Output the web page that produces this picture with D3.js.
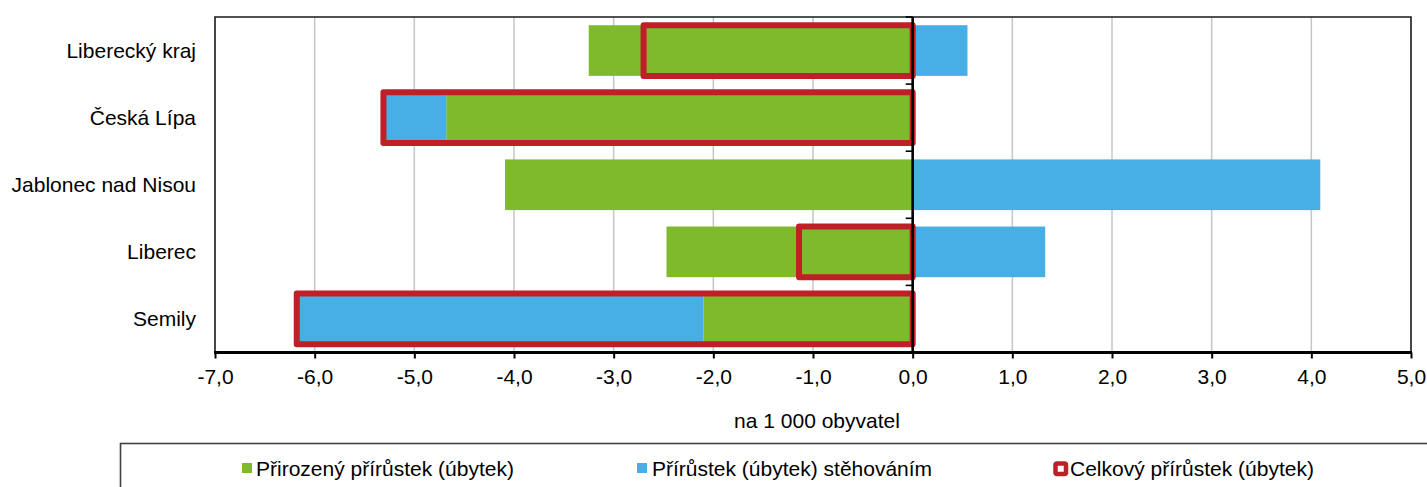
<!DOCTYPE html>
<html>
<head>
<meta charset="utf-8">
<script src="https://cdn.jsdelivr.net/npm/d3@7"></script>
<style>
  html, body { margin: 0; padding: 0; background: #fff; }
  svg { display: block; }
  text { font-family: "Liberation Sans", Arial, sans-serif; fill: #000; }
</style>
</head>
<body>
<svg id="chart" width="1427" height="487"></svg>
<script>
const categories = ["Liberecký kraj", "Česká Lípa", "Jablonec nad Nisou", "Liberec", "Semily"];
const natural   = [-3.25, -4.68, -4.09, -2.47, -2.10];
const migration = [ 0.55, -0.63,  4.09,  1.33, -4.08];
const total     = [-2.70, -5.31,  0.00, -1.14, -6.18];
const xTicks = [-7, -6, -5, -4, -3, -2, -1, 0, 1, 2, 3, 4, 5];
const seriesNames = ["Přirozený přírůstek (úbytek)", "Přírůstek (úbytek) stěhováním", "Celkový přírůstek (úbytek)"];
const axisTitle = "na 1 000 obyvatel";

const colors = { natural: "#7FBA2C", migration: "#48AEE6", total: "#C01F27" };

const svg = d3.select("#chart");
const pLeft = 215, pRight = 1411, pTop = 17, pBottom = 352.5;

const x = d3.scaleLinear().domain([-7, 5]).range([pLeft, pRight]);
const y = d3.scaleBand().domain(categories).range([pTop, pBottom]).paddingInner(0.245).paddingOuter(0.1225);

// gridlines
svg.append("g").selectAll("line").data(xTicks.filter(t => t !== -7 && t !== 0 && t !== 5)).join("line")
  .attr("x1", d => x(d)).attr("x2", d => x(d))
  .attr("y1", pTop).attr("y2", pBottom)
  .attr("stroke", "#C6C6C6").attr("stroke-width", 1.5);

// stacked bars
const rows = categories.map((c, i) => ({ cat: c, natural: natural[i], migration: migration[i] }));
const stack = d3.stack().keys(["natural", "migration"]).offset(d3.stackOffsetDiverging);
const stacked = stack(rows);

svg.append("g").selectAll("g").data(stacked).join("g")
  .attr("fill", s => colors[s.key])
  .selectAll("rect").data(s => s).join("rect")
  .attr("x", d => x(Math.min(d[0], d[1])))
  .attr("width", d => Math.abs(x(d[1]) - x(d[0])))
  .attr("y", d => y(d.data.cat))
  .attr("height", y.bandwidth());

// total outline boxes
svg.append("g").selectAll("rect").data(categories.map((c, i) => ({ cat: c, v: total[i] })).filter(d => d.v !== 0)).join("rect")
  .attr("x", d => x(Math.min(d.v, 0)))
  .attr("width", d => Math.abs(x(d.v) - x(0)))
  .attr("y", d => y(d.cat))
  .attr("height", y.bandwidth())
  .attr("fill", "none")
  .attr("stroke", colors.total)
  .attr("stroke-width", 6)
  .attr("stroke-linejoin", "round");

// frame: top, left, right
svg.append("path")
  .attr("d", `M${pLeft},${pBottom} V${pTop} H${pRight} V${pBottom}`)
  .attr("fill", "none").attr("stroke", "#1a1a1a").attr("stroke-width", 1.6);

// zero line with category separator ticks
svg.append("line").attr("x1", x(0)).attr("x2", x(0)).attr("y1", pTop).attr("y2", pBottom)
  .attr("stroke", "#000").attr("stroke-width", 2.6);
const seps = categories.map(c => y(c) - y.step() * y.paddingInner() / 2).concat([pBottom]);
svg.append("g").selectAll("line").data(seps).join("line")
  .attr("x1", x(0) - 7).attr("x2", x(0))
  .attr("y1", d => d).attr("y2", d => d)
  .attr("stroke", "#000").attr("stroke-width", 1.6);

// bottom axis
const xAxis = d3.axisBottom(x).tickValues(xTicks).tickSize(6).tickPadding(8)
  .tickFormat(d => d3.format(".1f")(d).replace(".", ",").replace("−", "-"));
const ax = svg.append("g").attr("transform", `translate(0,${pBottom})`).call(xAxis);
ax.select(".domain").attr("stroke", "#000").attr("stroke-width", 3).attr("d", `M${pLeft - 1},0H${pRight + 1}`);
ax.selectAll(".tick line").attr("stroke", "#000").attr("stroke-width", 2);
ax.selectAll(".tick text").attr("font-size", 21).attr("font-family", "Liberation Sans, Arial, sans-serif")
  .attr("fill", "#000").attr("y", 0).attr("dy", 31.5);

// category labels
svg.append("g").selectAll("text").data(categories).join("text")
  .attr("x", 196)
  .attr("y", d => y(d) + y.bandwidth() / 2 + 7.5)
  .attr("text-anchor", "end").attr("font-size", 21)
  .text(d => d);

// axis title
svg.append("text").attr("x", (pLeft + pRight) / 2 + 4).attr("y", 428)
  .attr("text-anchor", "middle").attr("font-size", 21).text(axisTitle);

// legend box
svg.append("rect").attr("x", 120.5).attr("y", 443.5).attr("width", 1400).attr("height", 100)
  .attr("fill", "none").attr("stroke", "#404040").attr("stroke-width", 1.6);

const legendItems = [
  { name: seriesNames[0], color: colors.natural, mx: 242, tx: 256, type: "fill" },
  { name: seriesNames[1], color: colors.migration, mx: 637, tx: 652, type: "fill" },
  { name: seriesNames[2], color: colors.total, mx: 1053, tx: 1070, type: "outline" }
];
const lg = svg.append("g").selectAll("g").data(legendItems).join("g");
lg.filter(d => d.type === "fill").append("rect")
  .attr("x", d => d.mx).attr("y", 463).attr("width", 10).attr("height", 10)
  .attr("fill", d => d.color);
lg.filter(d => d.type === "outline").append("rect")
  .attr("x", d => d.mx + 2.5).attr("y", 463.5).attr("width", 10.5).attr("height", 10.5)
  .attr("fill", "#fff").attr("stroke", d => d.color).attr("stroke-width", 4.5)
  .attr("rx", 1.5);
lg.append("text").attr("x", d => d.tx).attr("y", 475.5).attr("font-size", 21).text(d => d.name);
</script>
</body>
</html>
